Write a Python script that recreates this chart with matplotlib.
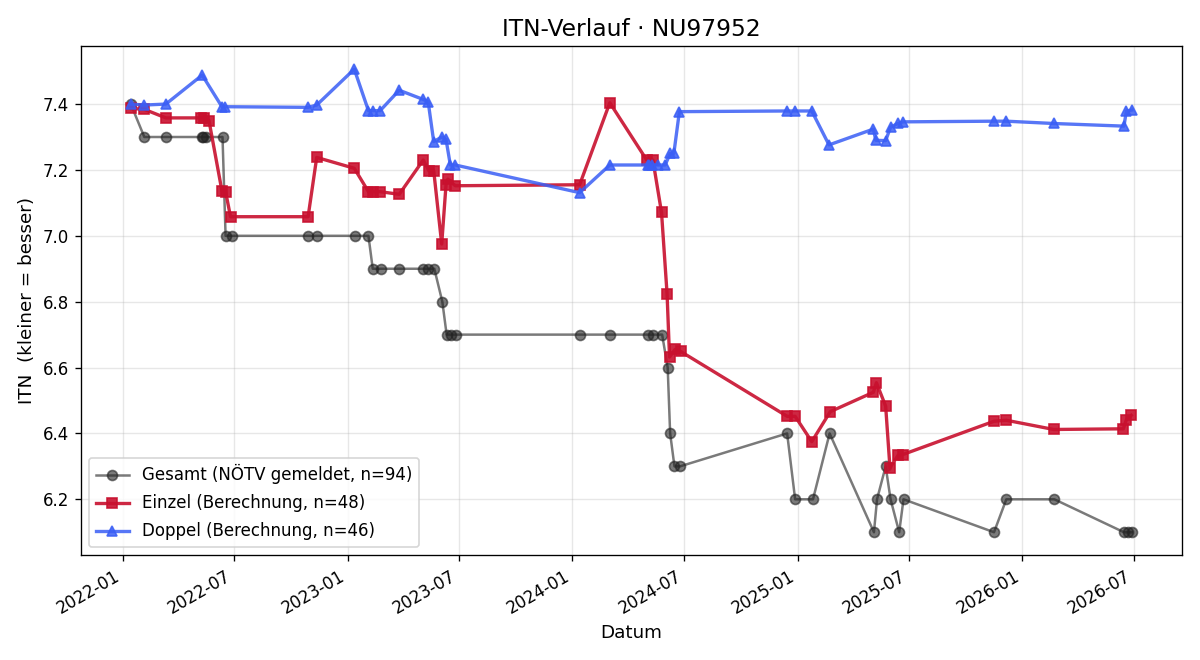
import matplotlib
matplotlib.use("Agg")
import matplotlib.pyplot as plt
import matplotlib.dates as mdates
import pandas as pd

# Gesamt (NÖTV gemeldet)
gesamt_dates = [
    "2022-01-14", "2022-02-05", "2022-03-12", "2022-05-09", "2022-05-12", "2022-05-16",
    "2022-06-12", "2022-06-17", "2022-06-27", "2022-10-29", "2022-11-12", "2023-01-13",
    "2023-02-04", "2023-02-11", "2023-02-25", "2023-03-26", "2023-05-04", "2023-05-12",
    "2023-05-22", "2023-06-04", "2023-06-11", "2023-06-18", "2023-06-26", "2024-01-13",
    "2024-03-02", "2024-05-03", "2024-05-11", "2024-05-26", "2024-06-04", "2024-06-08",
    "2024-06-15", "2024-06-24", "2024-12-15", "2024-12-28", "2025-01-26", "2025-02-22",
    "2025-05-05", "2025-05-10", "2025-05-24", "2025-06-01", "2025-06-15", "2025-06-22",
    "2025-11-16", "2025-12-06", "2026-02-22", "2026-06-15", "2026-06-21", "2026-06-28",
]
gesamt_itn = [
    7.4, 7.3, 7.3, 7.3, 7.3, 7.3,
    7.3, 7.0, 7.0, 7.0, 7.0, 7.0,
    7.0, 6.9, 6.9, 6.9, 6.9, 6.9,
    6.9, 6.8, 6.7, 6.7, 6.7, 6.7,
    6.7, 6.7, 6.7, 6.7, 6.6, 6.4,
    6.3, 6.3, 6.4, 6.2, 6.2, 6.4,
    6.1, 6.2, 6.3, 6.2, 6.1, 6.2,
    6.1, 6.2, 6.2, 6.1, 6.1, 6.1,
]

# Einzel (Berechnung)
einzel_dates = [
    "2022-01-14", "2022-02-05", "2022-03-12", "2022-05-08", "2022-05-13", "2022-05-21",
    "2022-06-11", "2022-06-17", "2022-06-25", "2022-10-29", "2022-11-12", "2023-01-12",
    "2023-02-04", "2023-02-11", "2023-02-23", "2023-03-26", "2023-05-04", "2023-05-13",
    "2023-05-21", "2023-06-03", "2023-06-10", "2023-06-13", "2023-06-25", "2024-01-13",
    "2024-03-02", "2024-05-01", "2024-05-11", "2024-05-25", "2024-06-03", "2024-06-07",
    "2024-06-16", "2024-06-25", "2024-12-15", "2024-12-28", "2025-01-24", "2025-02-23",
    "2025-05-04", "2025-05-09", "2025-05-24", "2025-05-31", "2025-06-13", "2025-06-21",
    "2025-11-16", "2025-12-06", "2026-02-21", "2026-06-14", "2026-06-19", "2026-06-27",
]
einzel_itn = [
    7.387, 7.384, 7.358, 7.358, 7.358, 7.350,
    7.137, 7.134, 7.058, 7.058, 7.238, 7.205,
    7.134, 7.134, 7.134, 7.126, 7.230, 7.198,
    7.198, 6.975, 7.155, 7.172, 7.152, 7.155,
    7.404, 7.230, 7.230, 7.071, 6.824, 6.632,
    6.655, 6.649, 6.452, 6.452, 6.375, 6.466,
    6.525, 6.554, 6.483, 6.296, 6.333, 6.336,
    6.437, 6.440, 6.412, 6.414, 6.442, 6.455,
]

# Doppel (Berechnung)
doppel_dates = [
    "2022-01-14", "2022-02-05", "2022-03-12", "2022-05-10", "2022-06-11", "2022-06-16",
    "2022-10-29", "2022-11-12", "2023-01-12", "2023-02-04", "2023-02-11", "2023-02-23",
    "2023-03-26", "2023-05-04", "2023-05-12", "2023-05-21", "2023-06-03", "2023-06-10",
    "2023-06-17", "2023-06-25", "2024-01-13", "2024-03-02", "2024-05-03", "2024-05-05",
    "2024-05-09", "2024-05-20", "2024-05-31", "2024-06-08", "2024-06-14", "2024-06-23",
    "2024-12-14", "2024-12-28", "2025-01-24", "2025-02-21", "2025-05-04", "2025-05-08",
    "2025-05-24", "2025-06-01", "2025-06-13", "2025-06-21", "2025-11-16", "2025-12-06",
    "2026-02-21", "2026-06-15", "2026-06-19", "2026-06-28",
]
doppel_itn = [
    7.400, 7.397, 7.400, 7.488, 7.392, 7.392,
    7.390, 7.397, 7.506, 7.380, 7.380, 7.380,
    7.442, 7.414, 7.407, 7.286, 7.300, 7.293,
    7.215, 7.215, 7.131, 7.215, 7.215, 7.215,
    7.215, 7.215, 7.215, 7.250, 7.250, 7.377,
    7.379, 7.379, 7.379, 7.276, 7.324, 7.290,
    7.289, 7.330, 7.341, 7.346, 7.348, 7.348,
    7.341, 7.333, 7.379, 7.382,
]

fig, ax = plt.subplots(figsize=(10, 5.5), dpi=120)

ax.plot(pd.to_datetime(gesamt_dates), gesamt_itn, marker="o", markersize=6,
        linewidth=1.5, color="#222222", alpha=0.6,
        label="Gesamt (NÖTV gemeldet, n=94)")
ax.plot(pd.to_datetime(einzel_dates), einzel_itn, marker="s", markersize=6,
        linewidth=2, color="#c8102e", alpha=0.9,
        label="Einzel (Berechnung, n=48)")
ax.plot(pd.to_datetime(doppel_dates), doppel_itn, marker="^", markersize=6,
        linewidth=2, color="#3a5ef5", alpha=0.85,
        label="Doppel (Berechnung, n=46)")

ax.set_title("ITN-Verlauf · NU97952", fontsize=14)
ax.set_xlabel("Datum", fontsize=11)
ax.set_ylabel("ITN  (kleiner = besser)", fontsize=11)
ax.grid(True, alpha=0.3)

ax.xaxis.set_major_locator(mdates.MonthLocator(bymonth=[1, 7]))
ax.xaxis.set_major_formatter(mdates.DateFormatter("%Y-%m"))
fig.autofmt_xdate()

ax.legend(loc="lower left", fontsize=10, labelspacing=0.6)

fig.tight_layout()
fig.savefig("out.png", dpi=120)
